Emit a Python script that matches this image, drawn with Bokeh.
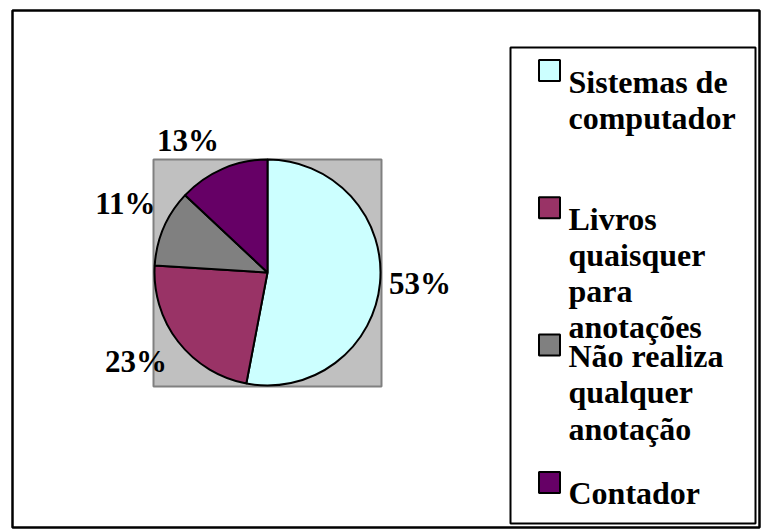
import math
from bokeh.plotting import figure
from bokeh.models import Range1d, ColumnDataSource
from bokeh.core.properties import value
from bokeh.embed import file_html
from bokeh.resources import INLINE

# ---- data ----
categories = ["Sistemas de computador", "Livros quaisquer para anotações",
              "Não realiza qualquer anotação", "Contador"]
legend_lines = [["Sistemas de", "computador"],
                ["Livros", "quaisquer", "para", "anotações"],
                ["Não realiza", "qualquer", "anotação"],
                ["Contador"]]
percent = [53, 23, 11, 13]
colors = ["#CCFFFF", "#993366", "#808080", "#660066"]

# ---- canvas (1 data unit = 1 pixel, y up) ----
W, H = 765, 529
p = figure(width=W, height=H, output_backend="svg", toolbar_location=None,
           x_range=Range1d(0, W), y_range=Range1d(0, H), min_border=0)
p.axis.visible = False
p.grid.visible = False
p.outline_line_color = None
p.background_fill_color = "white"
p.border_fill_color = "white"

def px(x):  # page x -> data x
    return x

def py(y):  # page y -> data y
    return H - y

FONT = value("Liberation Serif")

# outer chart border
p.quad(left=px(12), right=px(759), top=py(10), bottom=py(527),
       fill_color=None, line_color="black", line_width=2.5)

# plot area (grey)
p.quad(left=px(153), right=px(381), top=py(159), bottom=py(386),
       fill_color="#C0C0C0", line_color="#808080", line_width=2)

# pie
cx, cy, r = px(267), py(272), 113
total = float(sum(percent))
starts, ends, mids = [], [], []
a = 90.0
for v in percent:
    sweep = v / total * 360.0
    starts.append(math.radians(a))
    ends.append(math.radians(a - sweep))
    mids.append(math.radians(a - sweep / 2))
    a -= sweep

src = ColumnDataSource(dict(start=starts, end=ends, color=colors))
p.wedge(x=cx, y=cy, radius=r, start_angle="start", end_angle="end",
        direction="clock", fill_color="color", line_color="black",
        line_width=2, source=src)

# percentage labels placed outside along each slice's mid angle
lx, ly, lal, lbl, ltxt = [], [], [], [], []
for v, m in zip(percent, mids):
    c, s = math.cos(m), math.sin(m)
    rr = r + 9
    lx.append(cx + rr * c - (4 if c < -0.3 and s < -0.3 else 0))
    ly.append(cy + rr * s + (3 if abs(s) > 0.3 else 0))
    lal.append("left" if c > 0.3 else ("right" if c < -0.3 else "center"))
    lbl.append("bottom" if s > 0.3 else ("top" if s < -0.3 else "middle"))
    ltxt.append(f"{v}%")
p.text(x=lx, y=ly, text=ltxt, text_align=lal, text_baseline=lbl,
       text_font=FONT, text_font_style="bold", text_font_size="31px",
       text_color="black")

# legend
p.quad(left=px(510), right=px(755), top=py(47), bottom=py(523),
       fill_color="white", line_color="black", line_width=2)
first_base = 81
entry_step = 137.3
line_step = 36.2
tx, ty, tt = [], [], []
mx, my = [], []
for i, lines in enumerate(legend_lines):
    base = first_base + i * entry_step
    mx.append(px(549))
    my.append(py(base - 11))
    for j, line in enumerate(lines):
        tx.append(px(568))
        ty.append(py(base + j * line_step))
        tt.append(line)
p.rect(x=mx, y=my, width=21, height=21, fill_color=colors,
       line_color="black", line_width=2)
p.text(x=tx, y=ty, text=tt, text_align="left", text_baseline="alphabetic",
       text_font=FONT, text_font_style="bold", text_font_size="32px",
       text_color="black")

open("out.html", "w").write(file_html(p, INLINE))
